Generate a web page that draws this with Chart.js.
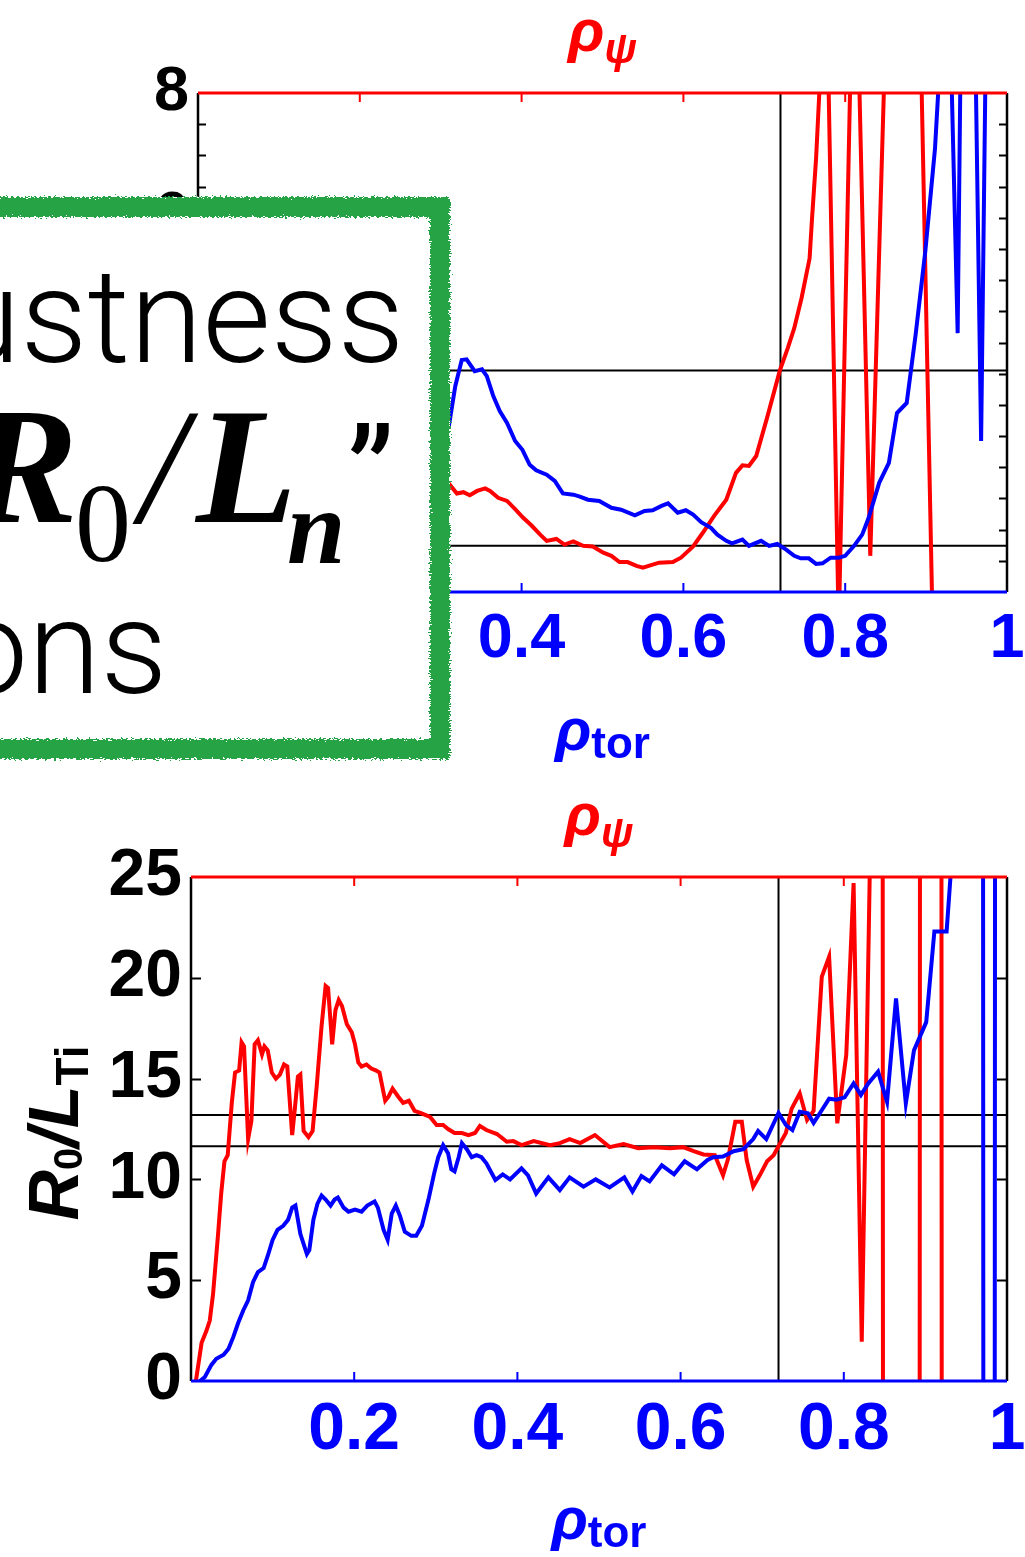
<!DOCTYPE html>
<html>
<head>
<meta charset="utf-8">
<script src="https://cdn.jsdelivr.net/npm/chart.js@4.4.1/dist/chart.umd.min.js"></script>
<style>
  html, body { margin: 0; padding: 0; background: #fff; }
  body { width: 1025px; height: 1557px; position: relative; overflow: hidden; }
  canvas { position: absolute; left: 0; }
  #topChart { top: 0; }
  #bottomChart { top: 780px; }
  .note { position: absolute; left: -40px; top: 197px; width: 490px; height: 562px; background: #fff; }
  .note .frame { position: absolute; inset: 0; border: 20px solid #28a444; filter: url(#rough); }
  .t { position: absolute; white-space: nowrap; line-height: 1; color: #000; }
  .light { font-family: Roboto, "Helvetica Neue", Helvetica, Arial, sans-serif; font-weight: 300; font-size: 132px; }
  .serif { font-family: "Liberation Serif", "Times New Roman", serif; }
</style>
</head>
<body>
<svg width="0" height="0" style="position:absolute">
  <filter id="rough" x="-5%" y="-5%" width="110%" height="110%">
    <feTurbulence type="fractalNoise" baseFrequency="0.35 0.9" numOctaves="2" seed="4" result="noise"/>
    <feDisplacementMap in="SourceGraphic" in2="noise" scale="8" xChannelSelector="R" yChannelSelector="G"/>
  </filter>
</svg>

<canvas id="topChart" width="1025" height="780"></canvas>
<canvas id="bottomChart" width="1025" height="777"></canvas>

<div class="note"><div class="frame"></div></div>
<div class="t light" style="left:-52px; top:251px;">ustness</div>
<div class="t serif" style="left:-32px; top:384px; font-size:165px; font-weight:bold; font-style:italic;">R</div>
<div class="t serif" style="left:75px; top:467px; font-size:112px;">0</div>
<div class="t serif" style="left:140px; top:384px; font-size:165px; font-style:italic;">/</div>
<div class="t serif" style="left:196px; top:384px; font-size:165px; font-weight:bold; font-style:italic;">L</div>
<div class="t serif" style="left:287px; top:475px; font-size:105px; font-weight:bold; font-style:italic;">n</div>
<div class="t light" style="left:347px; top:411px; font-weight:400;">”</div>
<div class="t light" style="left:-46px; top:582px;">ons</div>

<script>
// R0/Ln profiles (upper panel)
const topTorX = [0.300, 0.310, 0.318, 0.326, 0.332, 0.342, 0.351, 0.357, 0.365, 0.373, 0.382, 0.392, 0.401, 0.410, 0.418, 0.431, 0.441, 0.451, 0.464, 0.472, 0.482, 0.496, 0.511, 0.523, 0.540, 0.552, 0.562, 0.573, 0.581, 0.593, 0.603, 0.612, 0.622, 0.634, 0.642, 0.653, 0.660, 0.673, 0.681, 0.696, 0.706, 0.716, 0.727, 0.737, 0.745, 0.755, 0.764, 0.772, 0.782, 0.792, 0.800, 0.811, 0.821, 0.829, 0.842, 0.854, 0.864, 0.876, 0.887, 0.899, 0.911, 0.918, 0.924, 0.930, 0.939, 0.943, 0.952, 0.960, 0.968, 0.974, 1.000];
const topTorY = [2.40, 2.65, 3.30, 3.72, 3.73, 3.54, 3.57, 3.46, 3.14, 2.90, 2.71, 2.42, 2.28, 2.04, 1.95, 1.88, 1.78, 1.58, 1.56, 1.53, 1.48, 1.46, 1.35, 1.32, 1.23, 1.30, 1.31, 1.38, 1.42, 1.27, 1.31, 1.24, 1.12, 1.03, 0.92, 0.82, 0.78, 0.84, 0.74, 0.82, 0.74, 0.77, 0.68, 0.58, 0.54, 0.54, 0.45, 0.46, 0.55, 0.55, 0.58, 0.74, 0.92, 1.19, 1.75, 2.07, 2.87, 3.03, 4.12, 5.46, 7.11, 8.70, 9.00, 9.00, 4.15, 9.00, 10.0, 9.50, 2.42, 9.00, 9.00];
const topPsiX = [0.300, 0.310, 0.320, 0.328, 0.336, 0.345, 0.355, 0.361, 0.371, 0.382, 0.392, 0.402, 0.412, 0.423, 0.431, 0.443, 0.453, 0.464, 0.476, 0.488, 0.501, 0.511, 0.521, 0.531, 0.542, 0.550, 0.560, 0.570, 0.587, 0.597, 0.612, 0.624, 0.638, 0.653, 0.665, 0.673, 0.681, 0.690, 0.704, 0.719, 0.729, 0.737, 0.746, 0.756, 0.759, 0.764, 0.768, 0.772, 0.776, 0.792, 0.810, 0.815, 0.831, 0.850, 0.893, 0.908, 0.920, 1.000];
const topPsiY = [1.85, 1.74, 1.58, 1.60, 1.55, 1.62, 1.66, 1.62, 1.51, 1.46, 1.33, 1.19, 1.07, 0.92, 0.82, 0.85, 0.76, 0.81, 0.74, 0.73, 0.63, 0.58, 0.48, 0.48, 0.42, 0.39, 0.43, 0.47, 0.48, 0.55, 0.73, 0.95, 1.22, 1.48, 1.91, 2.03, 2.02, 2.18, 2.82, 3.54, 3.91, 4.23, 4.71, 5.35, 5.99, 6.95, 8.00, 9.50, 10.5, -0.60, 10.5, 9.50, 0.58, 9.00, 9.00, -0.50, -3.0, -3.0];

// R0/LTi profiles (lower panel)
const bottomTorX = [0.011, 0.017, 0.025, 0.031, 0.040, 0.046, 0.052, 0.058, 0.064, 0.070, 0.076, 0.082, 0.089, 0.094, 0.100, 0.106, 0.113, 0.119, 0.124, 0.128, 0.134, 0.142, 0.145, 0.150, 0.155, 0.160, 0.165, 0.171, 0.176, 0.180, 0.187, 0.193, 0.201, 0.209, 0.216, 0.225, 0.229, 0.236, 0.241, 0.246, 0.251, 0.256, 0.262, 0.270, 0.276, 0.283, 0.291, 0.298, 0.303, 0.309, 0.315, 0.319, 0.323, 0.328, 0.332, 0.338, 0.344, 0.350, 0.356, 0.362, 0.373, 0.382, 0.391, 0.405, 0.413, 0.423, 0.438, 0.452, 0.464, 0.481, 0.496, 0.513, 0.531, 0.541, 0.552, 0.562, 0.577, 0.592, 0.605, 0.620, 0.633, 0.640, 0.652, 0.665, 0.677, 0.689, 0.695, 0.705, 0.720, 0.729, 0.737, 0.746, 0.756, 0.763, 0.773, 0.782, 0.791, 0.801, 0.812, 0.821, 0.830, 0.842, 0.853, 0.864, 0.876, 0.886, 0.901, 0.911, 0.926, 0.936, 0.946, 0.956, 0.966, 0.976, 0.980, 0.990, 1.000];
const bottomTorY = [0.0, 0.2, 0.8, 1.1, 1.3, 1.6, 2.2, 2.9, 3.5, 4.0, 4.9, 5.4, 5.6, 6.2, 7.0, 7.5, 7.7, 8.0, 8.6, 8.7, 7.3, 6.3, 6.5, 8.0, 8.8, 9.2, 9.0, 8.7, 9.0, 9.1, 8.6, 8.4, 8.5, 8.4, 8.7, 8.9, 8.6, 7.5, 7.0, 8.3, 8.7, 8.2, 7.4, 7.2, 7.2, 7.7, 9.0, 10.3, 11.1, 11.7, 11.3, 10.5, 10.4, 11.1, 11.8, 11.5, 11.1, 11.2, 11.1, 10.8, 9.97, 10.25, 10.0, 10.55, 10.2, 9.3, 10.1, 9.47, 10.1, 9.64, 10.0, 9.6, 10.1, 9.4, 10.17, 9.9, 10.7, 10.25, 10.9, 10.5, 10.96, 11.1, 11.13, 11.4, 11.5, 12.0, 12.4, 12.0, 13.3, 12.7, 12.45, 13.36, 13.28, 12.8, 13.43, 14.0, 13.95, 14.07, 14.76, 14.19, 14.76, 15.34, 13.85, 18.98, 13.77, 16.4, 17.8, 22.3, 22.3, 28, 200, 300, 400, -400, -400, 400, 300];
const bottomPsiX = [0.006, 0.013, 0.019, 0.023, 0.027, 0.033, 0.037, 0.041, 0.045, 0.050, 0.054, 0.059, 0.062, 0.065, 0.070, 0.074, 0.078, 0.082, 0.087, 0.090, 0.094, 0.099, 0.104, 0.109, 0.114, 0.118, 0.124, 0.127, 0.131, 0.134, 0.138, 0.144, 0.149, 0.154, 0.160, 0.165, 0.168, 0.173, 0.177, 0.181, 0.185, 0.191, 0.197, 0.201, 0.205, 0.209, 0.215, 0.221, 0.227, 0.231, 0.238, 0.242, 0.247, 0.254, 0.260, 0.267, 0.274, 0.281, 0.287, 0.293, 0.301, 0.309, 0.315, 0.323, 0.332, 0.340, 0.348, 0.354, 0.362, 0.375, 0.387, 0.395, 0.405, 0.420, 0.440, 0.452, 0.464, 0.477, 0.495, 0.513, 0.530, 0.548, 0.567, 0.587, 0.603, 0.616, 0.628, 0.642, 0.652, 0.658, 0.667, 0.675, 0.681, 0.689, 0.697, 0.706, 0.714, 0.722, 0.729, 0.736, 0.746, 0.755, 0.763, 0.773, 0.782, 0.792, 0.803, 0.812, 0.822, 0.833, 0.843, 0.853, 0.888, 0.898, 0.915, 0.925, 1.000];
const bottomPsiY = [0.0, 1.9, 2.5, 3.0, 4.3, 7.2, 9.3, 10.9, 11.2, 13.8, 15.3, 15.4, 16.8, 16.6, 12.0, 12.9, 16.7, 16.9, 16.2, 16.6, 16.4, 15.3, 15.0, 15.2, 15.7, 15.6, 12.2, 13.4, 15.1, 15.2, 12.4, 12.1, 12.4, 14.6, 17.6, 19.6, 19.5, 16.7, 18.4, 18.9, 18.6, 17.7, 17.3, 16.7, 15.8, 15.6, 15.7, 15.5, 15.4, 15.3, 13.9, 14.1, 14.5, 14.1, 13.8, 13.9, 13.4, 13.3, 13.2, 13.1, 12.7, 12.7, 12.5, 12.3, 12.3, 12.2, 12.3, 12.65, 12.45, 12.25, 11.87, 11.9, 11.7, 11.9, 11.7, 11.8, 12.0, 11.8, 12.2, 11.6, 11.75, 11.55, 11.6, 11.55, 11.6, 11.4, 11.24, 11.2, 10.2, 11.0, 12.86, 12.86, 10.96, 9.64, 10.2, 10.9, 11.2, 11.8, 12.3, 13.5, 14.27, 12.95, 13.4, 20.05, 21.05, 12.78, 16.17, 24.7, 1.95, 28, 400, -400, -400, 400, 400, -400, -400];

// reference levels and separatrix position
const topLevels = [3.55, 0.74];
const bottomLevels = [13.2, 11.65];
const edgeRho = 0.72;

const xTickLabels = ['', '0.2', '0.4', '0.6', '0.8', '1'];
const topYLabels = ['0', '2', '4', '6', '8'];
const bottomYLabels = ['0', '5', '10', '15', '20', '25'];

const RED = '#ff0000';
const BLUE = '#0000ff';
const SANS = '"Liberation Sans", Arial, Helvetica, sans-serif';

const toPoints = (xs, ys) => xs.map((x, i) => ({ x, y: ys[i] }));

// draws a run of text pieces (main symbol + subscripts) starting at x
function drawPieces(ctx, x, baseline, pieces) {
  pieces.forEach(p => {
    ctx.font = p.font;
    ctx.fillText(p.text, x, baseline + (p.dy || 0));
    x += ctx.measureText(p.text).width;
  });
}

function piecesWidth(ctx, pieces) {
  return pieces.reduce((w, p) => { ctx.font = p.font; return w + ctx.measureText(p.text).width; }, 0);
}

function centeredPieces(ctx, cx, baseline, pieces) {
  drawPieces(ctx, cx - piecesWidth(ctx, pieces) / 2, baseline, pieces);
}

// Frame with inward ticks, reference lines and the axis symbols
function panelDecor(cfg) {
  return {
    id: 'panelDecor',
    beforeDatasetsDraw(chart) {
      const { ctx, chartArea: a, scales: { x, y } } = chart;
      ctx.save();
      ctx.strokeStyle = '#000';
      ctx.lineWidth = 2;
      ctx.beginPath();
      cfg.levels.forEach(v => {
        const py = y.getPixelForValue(v);
        ctx.moveTo(a.left, py);
        ctx.lineTo(a.right, py);
      });
      const px = x.getPixelForValue(edgeRho);
      ctx.moveTo(px, a.top);
      ctx.lineTo(px, a.bottom);
      ctx.stroke();
      ctx.restore();
    },
    afterDatasetsDraw(chart) {
      const { ctx, chartArea: a, scales: { x, y } } = chart;
      ctx.save();
      ctx.lineWidth = 2.5;

      // left / right frame with y ticks
      ctx.strokeStyle = '#000';
      ctx.beginPath();
      ctx.moveTo(a.left, a.top); ctx.lineTo(a.left, a.bottom);
      ctx.moveTo(a.right, a.top); ctx.lineTo(a.right, a.bottom);
      ctx.stroke();
      ctx.lineWidth = 2;
      ctx.beginPath();
      for (let v = y.min + cfg.yTickStep; v < y.max; v += cfg.yTickStep) {
        const py = Math.round(y.getPixelForValue(v)) + 0.5;
        ctx.moveTo(a.left, py); ctx.lineTo(a.left + cfg.tickLen, py);
        ctx.moveTo(a.right, py); ctx.lineTo(a.right - cfg.tickLen, py);
      }
      ctx.stroke();

      // top (rho_psi) in red, bottom (rho_tor) in blue
      const inner = x.ticks.map(t => t.value).filter(v => v > x.min && v < x.max);
      ctx.lineWidth = 3;
      ctx.strokeStyle = RED;
      ctx.beginPath();
      ctx.moveTo(a.left, a.top); ctx.lineTo(a.right, a.top);
      ctx.stroke();
      ctx.lineWidth = 2;
      ctx.beginPath();
      inner.forEach(v => { const px = x.getPixelForValue(v); ctx.moveTo(px, a.top); ctx.lineTo(px, a.top + 9); });
      ctx.stroke();

      ctx.lineWidth = 3;
      ctx.strokeStyle = BLUE;
      ctx.beginPath();
      ctx.moveTo(a.left, a.bottom); ctx.lineTo(a.right, a.bottom);
      ctx.stroke();
      ctx.lineWidth = 2;
      ctx.beginPath();
      inner.forEach(v => { const px = x.getPixelForValue(v); ctx.moveTo(px, a.bottom); ctx.lineTo(px, a.bottom - 9); });
      ctx.stroke();
      ctx.restore();
    },
    afterDraw(chart) {
      const { ctx, chartArea: a } = chart;
      const cx = (a.left + a.right) / 2;
      ctx.save();
      ctx.textBaseline = 'alphabetic';
      ctx.textAlign = 'left';

      ctx.fillStyle = RED;
      centeredPieces(ctx, cx, a.top - 42, [
        { text: 'ρ', font: `italic bold 60px ${SANS}` },
        { text: 'ψ', font: `italic bold 42px ${SANS}`, dy: 12 }
      ]);

      ctx.fillStyle = BLUE;
      centeredPieces(ctx, cx, a.bottom + 158, [
        { text: 'ρ', font: `italic bold 60px ${SANS}` },
        { text: 'tor', font: `bold 44px ${SANS}`, dy: 8 }
      ]);

      if (cfg.yTitle) {
        const pieces = [
          { text: 'R', font: `italic bold 70px ${SANS}` },
          { text: '0', font: `bold 40px ${SANS}`, dy: 4 },
          { text: '/', font: `italic bold 70px ${SANS}` },
          { text: 'L', font: `italic bold 70px ${SANS}` },
          { text: 'Ti', font: `bold 46px ${SANS}`, dy: 10 }
        ];
        ctx.fillStyle = '#000';
        ctx.translate(78, (a.top + a.bottom) / 2 + 4);
        ctx.rotate(-Math.PI / 2);
        centeredPieces(ctx, 0, 0, pieces);
      }
      ctx.restore();
    }
  };
}

function makePanel(canvasId, o) {
  return new Chart(document.getElementById(canvasId), {
    type: 'line',
    data: {
      datasets: [
        { data: toPoints(o.torX, o.torY), borderColor: BLUE, borderWidth: 4, pointRadius: 0, tension: 0, fill: false },
        { data: toPoints(o.psiX, o.psiY), borderColor: RED, borderWidth: 4, pointRadius: 0, tension: 0, fill: false }
      ]
    },
    options: {
      responsive: false,
      animation: false,
      events: [],
      layout: { padding: { top: o.padTop, right: 18, left: 0, bottom: 0 } },
      plugins: { legend: { display: false }, tooltip: { enabled: false } },
      scales: {
        x: {
          type: 'linear', min: 0, max: 1,
          grid: { display: false, drawTicks: false },
          border: { display: false },
          ticks: {
            stepSize: 0.2, padding: 10, color: BLUE, maxRotation: 0, autoSkip: false,
            font: { family: SANS, weight: 'bold', size: o.fontSize },
            callback: (v, i) => xTickLabels[i]
          },
          afterFit: s => { s.height = o.xAxisHeight; s.paddingLeft = 0; s.paddingRight = 0; }
        },
        y: {
          type: 'linear', min: 0, max: o.yMax,
          grid: { display: false, drawTicks: false },
          border: { display: false },
          ticks: {
            stepSize: o.yStep, padding: 9, color: '#000',
            font: { family: SANS, weight: 'bold', size: o.fontSize },
            callback: (v, i) => o.yLabels[i]
          },
          afterFit: s => { s.width = o.yAxisWidth; s.paddingTop = 0; s.paddingBottom = 0; }
        }
      }
    },
    plugins: [panelDecor({ levels: o.levels, yTickStep: o.yTickStep, tickLen: o.tickLen, yTitle: o.yTitle })]
  });
}

makePanel('topChart', {
  torX: topTorX, torY: topTorY, psiX: topPsiX, psiY: topPsiY,
  levels: topLevels, yMax: 8, yStep: 2, yTickStep: 0.5, tickLen: 8, yLabels: topYLabels,
  padTop: 93, xAxisHeight: 188, yAxisWidth: 198, fontSize: 63, yTitle: false
});

makePanel('bottomChart', {
  torX: bottomTorX, torY: bottomTorY, psiX: bottomPsiX, psiY: bottomPsiY,
  levels: bottomLevels, yMax: 25, yStep: 5, yTickStep: 5, tickLen: 10, yLabels: bottomYLabels,
  padTop: 97, xAxisHeight: 176, yAxisWidth: 191, fontSize: 66, yTitle: true
});
</script>
</body>
</html>
